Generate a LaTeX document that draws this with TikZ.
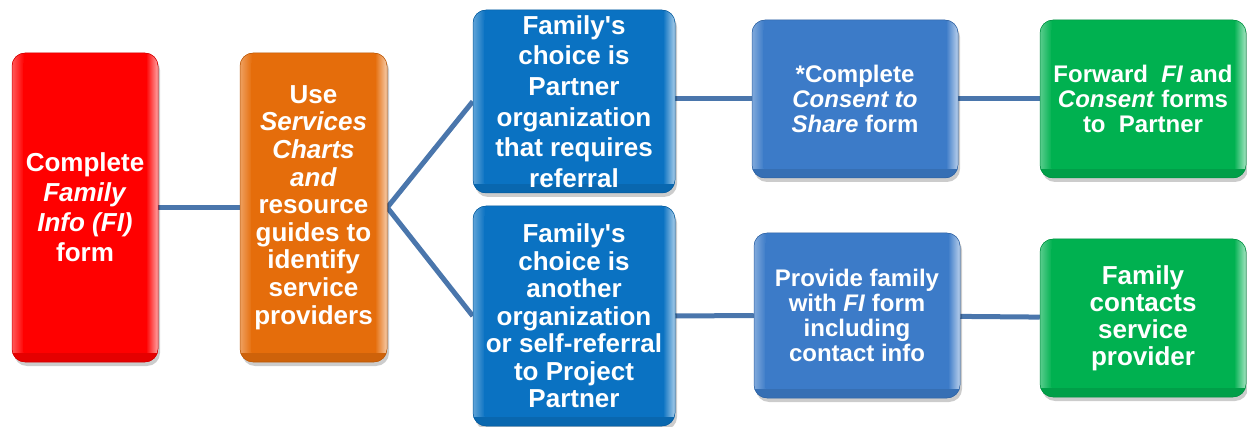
\documentclass[tikz,border=0pt]{standalone}
\usepackage{fontspec}
\setmainfont{Liberation Sans}[Ligatures=TeXOff]
\usetikzlibrary{shadows, backgrounds, calc}
\definecolor{FormRed}{HTML}{FF0000}
\definecolor{GuideOrange}{HTML}{E56D0B}
\definecolor{ChoiceBlue}{HTML}{0A72C2}
\definecolor{StepBlue}{HTML}{3C7BC8}
\definecolor{DoneGreen}{HTML}{00B150}
\definecolor{LinkBlue}{HTML}{4A76AC}

\begin{document}
\begin{tikzpicture}[x=1pt, y=-1pt,
    card/.style={rounded corners=13pt, fill=#1, draw=#1!80!black, line width=0.5pt,
      text=white, align=center, inner sep=0pt,
      drop shadow={shadow xshift=2pt, shadow yshift=-4pt, fill=black, opacity=0.2},
      path picture={
        \begin{scope}[sharp corners]
          % bevel: light sides, darker foot, flat face
          \fill[left color=#1!65!white, right color=#1] (path picture bounding box.south west)
            rectangle ($(path picture bounding box.north west)+(12pt,0)$);
          \fill[left color=#1, right color=#1!35!white] ($(path picture bounding box.south east)+(-12pt,0)$)
            rectangle (path picture bounding box.north east);
          \fill[#1!90!black] (path picture bounding box.south west)
            rectangle ($(path picture bounding box.south east)+(0,9pt)$);
          \fill[#1] ($(path picture bounding box.south west)+(11pt,10pt)$)
            rectangle ($(path picture bounding box.north east)+(-11pt,-10pt)$);
        \end{scope}
      }},
    bigtext/.style={font=\bfseries\fontsize{26}{#1}\selectfont},
    smalltext/.style={font=\bfseries\fontsize{24}{25}\selectfont},
    link/.style={draw=LinkBlue, line width=5pt}]
  \useasboundingbox (0,0) rectangle (1247,427);

  % first two steps
  \node[card=FormRed, bigtext=30, minimum width=146pt, minimum height=309pt] (fi) at (85,207.5)
    {Complete\\\textit{Family}\\\textit{Info (FI)}\\form};
  \node[card=GuideOrange, bigtext=27.6, minimum width=147pt, minimum height=309pt] (guide) at (313.5,207.5)
    {Use\\\textit{Services}\\\textit{Charts}\\\textit{and}\\resource\\guides to\\identify\\service\\providers};

  % the two choices
  \node[card=ChoiceBlue, bigtext=30.6, minimum width=202pt, minimum height=183pt] (partner) at (574,101.5)
    {Family's\\choice is\\Partner\\organization\\that requires\\referral};
  \node[card=ChoiceBlue, bigtext=27.5, minimum width=202pt, minimum height=220pt] (other) at (574,316)
    {Family's\\choice is\\another\\organization\\or self-referral\\to Project\\Partner};

  % what follows each choice
  \node[card=StepBlue, smalltext, minimum width=206pt, minimum height=158pt] (consent) at (855,99)
    {*Complete\\\textit{Consent to}\\\textit{Share} form};
  \node[card=DoneGreen, smalltext, minimum width=206pt, minimum height=158pt] (forward) at (1143,99)
    {Forward\ \ \textit{FI} and\\\textit{Consent} forms\\to\ \ Partner};
  \node[card=StepBlue, smalltext, minimum width=206pt, minimum height=165pt] (provide) at (857,315.5)
    {Provide family\\with \textit{FI} form\\including\\contact info};
  \node[card=DoneGreen, bigtext=27, minimum width=206pt, minimum height=158pt] (contacts) at (1143,318)
    {Family\\contacts\\service\\provider};

  \begin{scope}[on background layer]
    \draw[link] (fi) -- (guide);
    \draw[link] (guide.east) -- (partner.west);
    \draw[link] (guide.east) -- (other.west);
    \draw[link] (consent.west -| partner.east) -- (consent.west);
    \draw[link] (consent) -- (forward);
    \draw[link] (other.east) -- (provide.west);
    \draw[link] (provide) -- (contacts);
  \end{scope}
\end{tikzpicture}
\end{document}
